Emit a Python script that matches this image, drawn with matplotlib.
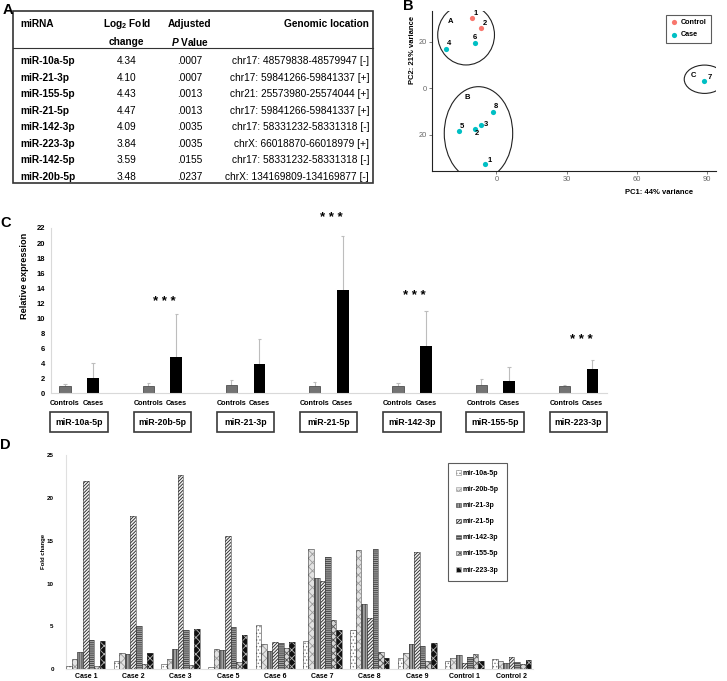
import numpy as np
import matplotlib
matplotlib.use('Agg')
import matplotlib.pyplot as plt
from matplotlib.patches import Ellipse, Rectangle, Patch
from matplotlib.transforms import blended_transform_factory

plt.rcParams['font.family'] = ['Liberation Sans', 'DejaVu Sans']
plt.rcParams['mathtext.fontset'] = 'custom'
plt.rcParams['mathtext.rm'] = 'Liberation Sans:bold'
plt.rcParams['mathtext.it'] = 'Liberation Sans:italic:bold'
plt.rcParams['mathtext.bf'] = 'Liberation Sans:bold'
plt.rcParams['hatch.linewidth'] = 0.6

# ---------- data: A (table)
table_mirna = ['miR-10a-5p', 'miR-21-3p', 'miR-155-5p', 'miR-21-5p',
               'miR-142-3p', 'miR-223-3p', 'miR-142-5p', 'miR-20b-5p']
table_log2fc = ['4.34', '4.10', '4.43', '4.47', '4.09', '3.84', '3.59', '3.48']
table_padj = ['.0007', '.0007', '.0013', '.0013', '.0035', '.0035', '.0155', '.0237']
table_location = ['chr17: 48579838-48579947 [-]', 'chr17: 59841266-59841337 [+]',
                  'chr21: 25573980-25574044 [+]', 'chr17: 59841266-59841337 [+]',
                  'chr17: 58331232-58331318 [-]', 'chrX: 66018870-66018979 [+]',
                  'chr17: 58331232-58331318 [-]', 'chrX: 134169809-134169877 [-]']

# ---------- data: B (PCA)
pca_label = ['1', '2', '4', '6', '7', '8', '3', '2', '5', '1']
pca_group = ['Control', 'Control', 'Case', 'Case', 'Case', 'Case', 'Case', 'Case', 'Case', 'Case']
pca_pc1 = [-10.3, -6.6, -21.7, -9.4, 89.0, -1.6, -6.6, -9.4, -16.0, -4.7]
pca_pc2 = [30.3, 26.0, 17.1, 19.4, 3.3, -10.1, -15.7, -17.4, -18.5, -32.5]
# where each point's number sits relative to it (pixels, right / down)
pca_label_dx = [3, 4.3, 3, 0, 5, 3, 5, 2.7, 3, 4]
pca_label_dy = [-4, -4, -5.3, -6, -3, -5, 0, 4.7, -4.3, -3]
cluster_name = ['A', 'B', 'C']
cluster_x = [-13.0, -7.7, 89.1]
cluster_y = [23.0, -19.4, 3.9]
cluster_w = [24.3, 29.3, 17.4]
cluster_h = [25.9, 40.2, 12.2]
cluster_label_x = [-19.8, -12.3, 84.4]
cluster_label_y = [28.6, -4.0, 5.6]
pca_xticks = [0, 30, 60, 90]
pca_yticks = [-20, 0, 20]
pca_ytick_labels = ['20', '0', '20']

# ---------- data: C (qPCR)
qpcr_mirna = ['miR-10a-5p', 'miR-20b-5p', 'miR-21-3p', 'miR-21-5p',
              'miR-142-3p', 'miR-155-5p', 'miR-223-3p']
ctrl_mean = [1.0, 1.0, 1.1, 1.0, 1.0, 1.1, 1.0]
ctrl_err = [0.2, 0.33, 0.63, 0.46, 0.37, 0.85, 0.04]
case_mean = [2.0, 4.88, 3.9, 13.8, 6.34, 1.64, 3.19]
case_err = [2.0, 5.62, 3.3, 7.2, 4.61, 1.82, 1.2]
signif = ['', '***', '', '***', '***', '', '***']
signif_y = [0, 12.2, 0, 23.3, 12.95, 0, 7.1]

# ---------- data: D (fold change per sample)
samples = ['Case 1', 'Case 2', 'Case 3', 'Case 5', 'Case 6', 'Case 7',
           'Case 8', 'Case 9', 'Control 1', 'Control 2']
fc_mir10a_5p = [0.4, 0.97, 0.58, 0.3, 5.17, 3.3, 4.6, 1.28, 0.93, 1.24]
fc_mir20b_5p = [1.2, 1.87, 1.17, 2.37, 2.96, 14.04, 13.9, 1.87, 1.28, 0.93]
fc_mir21_3p = [2.06, 1.83, 2.37, 2.2, 2.14, 10.66, 7.66, 2.92, 1.63, 0.7]
fc_mir21_5p = [22.0, 17.9, 22.7, 15.6, 3.19, 10.27, 5.95, 13.7, 0.78, 1.4]
fc_mir142_3p = [3.4, 5.05, 4.6, 4.94, 3.11, 13.15, 14.04, 2.76, 1.4, 0.82]
fc_mir155_5p = [0.4, 0.58, 0.5, 0.86, 2.49, 5.72, 1.98, 0.93, 1.75, 0.58]
fc_mir223_3p = [3.3, 1.87, 4.7, 4.0, 3.19, 4.6, 1.28, 3.03, 0.93, 1.13]
fc_names = ['mir-10a-5p', 'mir-20b-5p', 'mir-21-3p', 'mir-21-5p',
            'mir-142-3p', 'mir-155-5p', 'mir-223-3p']
fc_values = [fc_mir10a_5p, fc_mir20b_5p, fc_mir21_3p, fc_mir21_5p,
             fc_mir142_3p, fc_mir155_5p, fc_mir223_3p]

# greyscale fill patterns, one per miRNA
fc_styles = [
    dict(face='white', hc='#808080', hatch='.....'),
    dict(face='#e2e2e2', hc='#9a9a9a', hatch='xxxx'),
    dict(face='#a0a0a0', hc='#404040', hatch='||||||'),
    dict(face='#f0f0f0', hc='#222222', hatch='//////////'),
    dict(face='#a0a0a0', hc='#404040', hatch='--------'),
    dict(face='#d8d8d8', hc='#555555', hatch='xxxxx'),
    dict(face='#111111', hc='#bbbbbb', hatch='xxxx'),
]

W, H = 727, 681
fig = plt.figure(figsize=(W / 100, H / 100), dpi=100)


def px_axes(l, t, r, b):
    return fig.add_axes([l / W, 1 - b / H, (r - l) / W, (b - t) / H])


def ftext(x, y, s, **kw):
    fig.text(x / W, 1 - y / H, s, **kw)


# panel letters
ftext(3, 10, 'A', fontsize=10.5, fontweight='bold', va='center')
ftext(403, 6, 'B', fontsize=10.5, fontweight='bold', va='center')
ftext(0, 223, 'C', fontsize=10.5, fontweight='bold', va='center')
ftext(0, 445, 'D', fontsize=10.5, fontweight='bold', va='center')

# ================= A: table
axa = px_axes(0, 0, 380, 195)
axa.set_xlim(0, 380)
axa.set_ylim(195, 0)
axa.axis('off')
axa.add_patch(Rectangle((13, 11), 360, 172, fill=False, edgecolor='#333333', lw=1.2))
axa.plot([13, 373], [47.7, 47.7], color='#333333', lw=0.8)
fs_t = 7.3
axa.text(20.7, 24, 'miRNA', fontsize=fs_t, fontweight='bold', va='center')
axa.text(126.7, 24, r'Log$_2$ Fold', fontsize=fs_t, fontweight='bold', va='center', ha='center')
axa.text(126.7, 42, 'change', fontsize=fs_t, fontweight='bold', va='center', ha='center')
axa.text(190, 24, 'Adjusted', fontsize=fs_t, fontweight='bold', va='center', ha='center')
axa.text(190, 42, r'$P$ Value', fontsize=fs_t, fontweight='bold', va='center', ha='center')
axa.text(369, 24, 'Genomic location', fontsize=fs_t, fontweight='bold', va='center', ha='right')
for i in range(len(table_mirna)):
    y = 61.3 + 16.5 * i
    axa.text(20.7, y, table_mirna[i], fontsize=fs_t, fontweight='bold', va='center')
    axa.text(126.7, y, table_log2fc[i], fontsize=fs_t, va='center', ha='center')
    axa.text(190, y, table_padj[i], fontsize=fs_t, va='center', ha='center')
    axa.text(369, y, table_location[i], fontsize=fs_t, va='center', ha='right')

# ================= B: PCA
axb = px_axes(432, 11, 716, 170.7)
pca_colors = {'Control': '#F8766D', 'Case': '#00BFC4'}
for grp in ['Control', 'Case']:
    idx = [i for i, g in enumerate(pca_group) if g == grp]
    axb.scatter([pca_pc1[i] for i in idx], [pca_pc2[i] for i in idx],
                s=14, color=pca_colors[grp], label=grp, zorder=3, linewidths=0)
for i in range(len(pca_label)):
    axb.annotate(pca_label[i], (pca_pc1[i], pca_pc2[i]),
                 xytext=(pca_label_dx[i] * 0.72, -pca_label_dy[i] * 0.72),
                 textcoords='offset points', fontsize=5.5, fontweight='bold',
                 ha='center', va='center')
for i in range(len(cluster_name)):
    axb.add_patch(Ellipse((cluster_x[i], cluster_y[i]), cluster_w[i], cluster_h[i],
                          fill=False, edgecolor='#222222', lw=0.8))
    axb.text(cluster_label_x[i], cluster_label_y[i], cluster_name[i],
             fontsize=5.5, fontweight='bold', ha='center', va='center')
axb.set_xlim(-27.6, 94)
axb.set_ylim(-35.5, 33.3)
axb.set_xticks(pca_xticks)
axb.set_yticks(pca_yticks)
axb.set_yticklabels(pca_ytick_labels)
axb.tick_params(labelsize=5.4, colors='#666666', length=2, width=0.6, pad=2)
for s in ['top', 'right']:
    axb.spines[s].set_visible(False)
for s in ['left', 'bottom']:
    axb.spines[s].set_linewidth(0.8)
    axb.spines[s].set_color('#222222')
leg = axb.legend(loc='upper right', bbox_to_anchor=(711 / W, 1 - 15 / H),
                 bbox_transform=fig.transFigure, fontsize=5.2, frameon=True,
                 fancybox=False, edgecolor='#333333', handletextpad=0.4,
                 labelspacing=0.7, borderpad=0.6, handlelength=1.0, markerscale=1.0,
                 borderaxespad=0)
leg.get_frame().set_linewidth(0.8)
for t in leg.get_texts():
    t.set_fontweight('bold')
ftext(413, 50, 'PC2: 21% variance', fontsize=5.5, fontweight='bold', rotation=90,
      ha='center', va='center')
ftext(659, 193, 'PC1: 44% variance', fontsize=5.5, fontweight='bold',
      ha='center', va='center')

# ================= C: qPCR bars
axc = px_axes(50.7, 228, 606.7, 393.3)
n = len(qpcr_mirna)
x = np.arange(n)
off = 0.168
axc.bar(x - off, ctrl_mean, 0.136, color='#737373', edgecolor='#3a3a3a', lw=0.5, zorder=2)
axc.bar(x + off, case_mean, 0.14, color='black', zorder=2)
for xs_, m, e in [(x - off, ctrl_mean, ctrl_err), (x + off, case_mean, case_err)]:
    top = np.array(m) + np.array(e)
    axc.vlines(xs_, m, top, color='#bdbdbd', lw=0.8, zorder=1)
    axc.hlines(top, xs_ - 0.02, xs_ + 0.02, color='#bdbdbd', lw=0.8, zorder=1)
for i in range(n):
    if signif[i]:
        axc.text(x[i] + 0.03, signif_y[i], ' '.join(signif[i]), fontsize=9.5,
                 fontweight='bold', ha='center', va='center')
axc.set_xlim(-0.34, 6.34)
axc.set_ylim(0, 22)
axc.set_yticks(np.arange(0, 23, 2))
axc.tick_params(axis='y', labelsize=5.5, length=0, pad=4)
for lab in axc.get_yticklabels():
    lab.set_fontweight('bold')
axc.set_xticks(np.concatenate([x - off, x + off]))
axc.set_xticklabels(['Controls'] * n + ['Cases'] * n, fontsize=5.2, fontweight='bold')
axc.tick_params(axis='x', length=0, pad=4.5)
for s in ['top', 'right']:
    axc.spines[s].set_visible(False)
for s in ['left', 'bottom']:
    axc.spines[s].set_color('#d9d9d9')
    axc.spines[s].set_linewidth(0.8)
tr = blended_transform_factory(axc.transData, axc.transAxes)
for i in range(n):
    axc.add_patch(Rectangle((x[i] - 0.345, -0.236), 0.69, 0.122, transform=tr,
                            clip_on=False, fill=False, edgecolor='#3a3a3a', lw=1.2))
    axc.text(x[i], -0.175, qpcr_mirna[i], transform=tr, fontsize=6.3,
             fontweight='bold', ha='center', va='center')
ftext(25, 276, 'Relative expression', fontsize=6.6, fontweight='bold', rotation=90,
      ha='center', va='center')

# ================= D: fold change per sample
axd = px_axes(66, 455, 533, 669.3)
xd = np.arange(len(samples))
bw = 0.118
handles = []
for k in range(len(fc_names)):
    st = fc_styles[k]
    pos = xd + (k - 3) * bw
    axd.bar(pos, fc_values[k], bw, color=st['face'], edgecolor=st['hc'],
            hatch=st['hatch'], lw=0, zorder=2)
    axd.bar(pos, fc_values[k], bw, fill=False, edgecolor='#404040', lw=0.4, zorder=3)
    handles.append(Patch(facecolor=st['face'], edgecolor=st['hc'], hatch=st['hatch'],
                         lw=0.4, label=fc_names[k]))
axd.set_xlim(-0.42, 9.45)
axd.set_ylim(0, 25)
axd.set_yticks([0, 5, 10, 15, 20, 25])
axd.tick_params(axis='y', labelsize=4.5, length=0, pad=8.8)
for lab in axd.get_yticklabels():
    lab.set_fontweight('bold')
axd.set_xticks(xd)
axd.set_xticklabels(samples, fontsize=5, fontweight='bold')
axd.tick_params(axis='x', length=0, pad=3)
for s in ['top', 'right']:
    axd.spines[s].set_visible(False)
for s in ['left', 'bottom']:
    axd.spines[s].set_color('#e0e0e0')
    axd.spines[s].set_linewidth(0.8)
legd = axd.legend(handles=handles, loc='upper left',
                  bbox_to_anchor=(448.3 / W, 1 - 462.7 / H), bbox_transform=fig.transFigure,
                  fontsize=5, frameon=True, fancybox=False, edgecolor='#333333',
                  handlelength=0.7, handleheight=0.7, handletextpad=0.3,
                  labelspacing=1.3, borderpad=1.1, borderaxespad=0)
legd.get_frame().set_linewidth(0.8)
for t in legd.get_texts():
    t.set_fontweight('bold')
ftext(43, 551, 'Fold change', fontsize=4.3, fontweight='bold', rotation=90,
      ha='center', va='center')

fig.savefig('out.png', dpi=100)
